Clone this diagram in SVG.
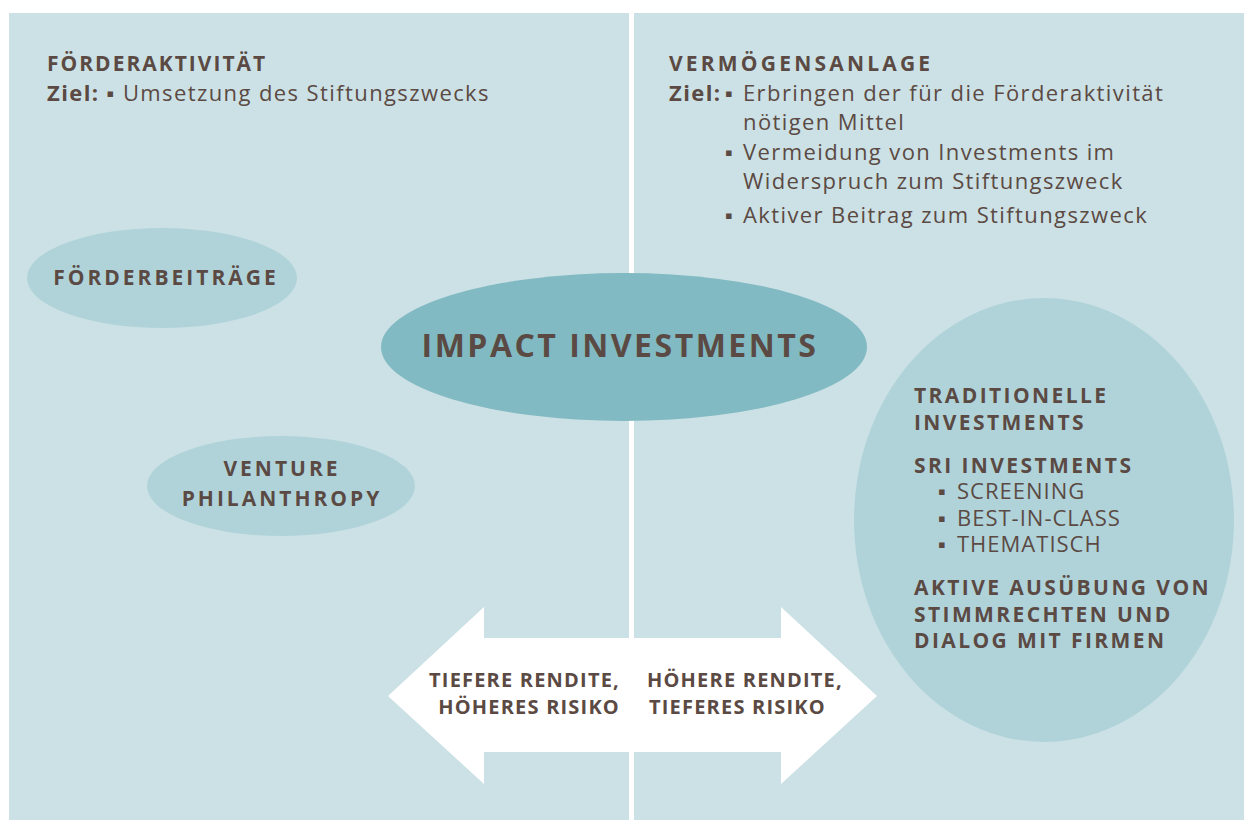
<svg xmlns="http://www.w3.org/2000/svg" width="1244" height="820" viewBox="0 0 1244 820">
<style>
.t{font-family:"Open Sans","Liberation Sans",sans-serif;fill:#5b4a43}
.h{font-weight:bold;font-size:21px;letter-spacing:2.5px}
.r{font-size:22px;letter-spacing:1.4px}
.q{font-size:22px;letter-spacing:1px}
.b{font-weight:bold;font-size:21px;letter-spacing:3px}
.c{font-weight:bold;font-size:21px;letter-spacing:2.4px}
.a{font-weight:bold;font-size:20px;letter-spacing:1.2px}
.pan{fill:#cce1e5}
.el{fill:#b0d3da}
</style>
<rect width="1244" height="820" fill="#ffffff"/>
<g id="panel-left"><rect class="pan" x="9" y="13" width="620" height="807"/></g>
<g id="panel-right"><rect class="pan" x="634" y="13" width="610" height="807"/></g>
<g id="header-left">
<text class="t h" x="47" y="71" style="letter-spacing:2px">FÖRDERAKTIVITÄT</text>
<text class="t r" x="47" y="101"><tspan font-weight="bold">Ziel:</tspan> ▪ Umsetzung des Stiftungszwecks</text>
</g>
<g id="header-right">
<text class="t h" x="669" y="71" style="letter-spacing:3.2px">VERMÖGENSANLAGE</text>
<text class="t r" x="669" y="101" font-weight="bold">Ziel:</text>
<text class="t r" x="725" y="101">▪</text>
<text class="t r" x="743" y="101">Erbringen der für die Förderaktivität</text>
<text class="t r" x="743" y="130">nötigen Mittel</text>
<text class="t r" x="725" y="160">▪</text>
<text class="t r" x="743" y="160">Vermeidung von Investments im</text>
<text class="t r" x="743" y="189">Widerspruch zum Stiftungszweck</text>
<text class="t r" x="725" y="223">▪</text>
<text class="t r" x="743" y="223">Aktiver Beitrag zum Stiftungszweck</text>
</g>
<g id="foerderbeitraege">
<ellipse class="el" cx="162" cy="278" rx="135" ry="50"/>
<text class="t b" x="166" y="285" text-anchor="middle">FÖRDERBEITRÄGE</text>
</g>
<g id="venture-philanthropy">
<ellipse class="el" cx="281" cy="486" rx="134" ry="50"/>
<text class="t b" x="282" y="476" text-anchor="middle">VENTURE</text>
<text class="t b" x="282" y="506" text-anchor="middle">PHILANTHROPY</text>
</g>
<g id="impact-investments">
<ellipse cx="624" cy="347" rx="243" ry="74" fill="#81bac2"/>
<text class="t" x="620" y="357" text-anchor="middle" font-weight="bold" font-size="32" letter-spacing="2.5">IMPACT INVESTMENTS</text>
</g>
<g id="traditionelle">
<ellipse class="el" cx="1044" cy="520" rx="190" ry="222"/>
<text class="t c" x="914" y="403">TRADITIONELLE</text>
<text class="t c" x="914" y="430">INVESTMENTS</text>
<text class="t c" x="914" y="473">SRI INVESTMENTS</text>
<text class="t q" x="938" y="499">▪</text>
<text class="t q" x="957" y="499">SCREENING</text>
<text class="t q" x="938" y="526">▪</text>
<text class="t q" x="957" y="526">BEST-IN-CLASS</text>
<text class="t q" x="938" y="552">▪</text>
<text class="t q" x="957" y="552">THEMATISCH</text>
<text class="t c" x="914" y="595">AKTIVE AUSÜBUNG VON</text>
<text class="t c" x="914" y="622">STIMMRECHTEN UND</text>
<text class="t c" x="914" y="648">DIALOG MIT FIRMEN</text>
</g>
<g id="connectors">
<polygon points="388,696 484,607 484,638 781,638 781,607 877,696 781,784 781,752 484,752 484,784" fill="#ffffff"/>
</g>
<g id="arrow-labels">
<text class="t a" x="620" y="687" text-anchor="end">TIEFERE RENDITE,</text>
<text class="t a" x="620" y="714" text-anchor="end">HÖHERES RISIKO</text>
<text class="t a" x="647" y="687">HÖHERE RENDITE,</text>
<text class="t a" x="649" y="714">TIEFERES RISIKO</text>
</g>
</svg>
